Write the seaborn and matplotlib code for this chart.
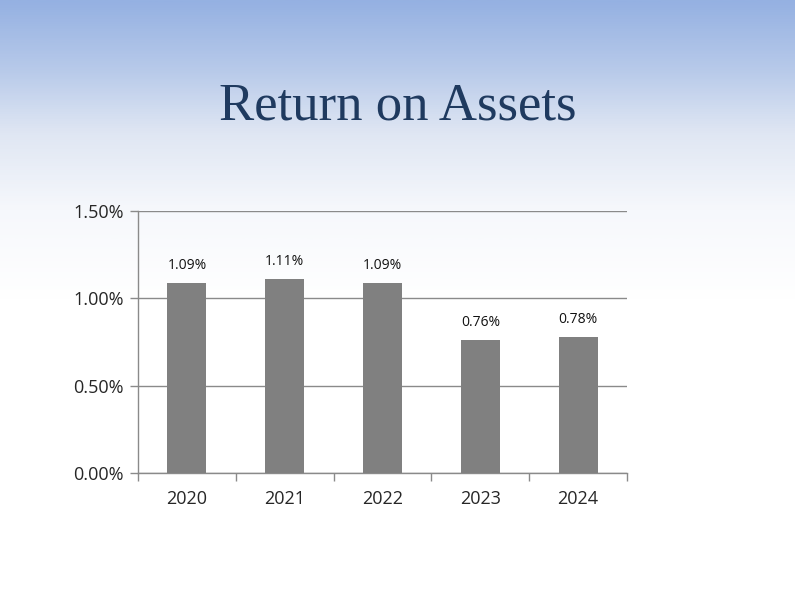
import numpy as np
import pandas as pd
import matplotlib
matplotlib.use("Agg")
import matplotlib.pyplot as plt
import seaborn as sns
from matplotlib.colors import LinearSegmentedColormap

years = ["2020", "2021", "2022", "2023", "2024"]
roa = [1.09, 1.11, 1.09, 0.76, 0.78]
labels = ["1.09%", "1.11%", "1.09%", "0.76%", "0.78%"]
yticks = [0.0, 0.5, 1.0, 1.5]
ytick_labels = ["0.00%", "0.50%", "1.00%", "1.50%"]

sns.set_style("white")
plt.rcParams['font.family'] = ['Open Sans', 'DejaVu Sans']

fig = plt.figure(figsize=(7.95, 5.96), dpi=100)

# background gradient
bg = fig.add_axes([0, 0, 1, 1], zorder=-10)
cmap = LinearSegmentedColormap.from_list(
    "bg", [(0.0, "#95b1e2"), (0.12, "#b9cbea"), (0.22, "#dfe6f3"), (0.35, "#f6f8fc"), (0.5, "#ffffff"), (1.0, "#ffffff")])
grad = np.linspace(0, 1, 600).reshape(-1, 1)
bg.imshow(grad, aspect="auto", cmap=cmap, extent=[0, 1, 1, 0])
bg.set_axis_off()

fig.text(0.5, 0.822, "Return on Assets", ha="center", va="center",
         fontsize=38, color="#1f3a5f", family=["Liberation Serif", "DejaVu Serif"])

ax = fig.add_axes([0.1736, 0.2064, 0.6151, 0.4396])
ax.patch.set_alpha(0)
df = pd.DataFrame({"year": years, "roa": roa})
sns.barplot(data=df, x="year", y="roa", color="#808080", saturation=1, width=0.4,
            linewidth=0, edgecolor="none", ax=ax, zorder=3)

ax.set_ylim(0, 1.5)
ax.set_xlim(-0.5, len(years) - 0.5)
ax.set_yticks(yticks)
ax.set_yticklabels(ytick_labels, fontsize=13)
ax.yaxis.grid(True, color="#8a8a8a", linewidth=1)
ax.set_axisbelow(True)
ax.set_xlabel("")
ax.set_ylabel("")

ax.set_xticks(np.arange(len(years)))
ax.set_xticklabels(years, fontsize=13)
ax.tick_params(axis="x", which="major", bottom=True, length=0, pad=12)
ax.set_xticks(np.arange(-0.5, len(years)), minor=True)
ax.tick_params(axis="x", which="minor", bottom=True, length=6, color="#8a8a8a", width=1, direction="out")
ax.tick_params(axis="y", left=True, length=6, color="#8a8a8a", width=1, direction="out", pad=4)

for s in ["top", "right"]:
    ax.spines[s].set_visible(False)
for s in ["left", "bottom"]:
    ax.spines[s].set_color("#8a8a8a")
    ax.spines[s].set_linewidth(1)

for i, (v, lab) in enumerate(zip(roa, labels)):
    ax.annotate(lab, (i, v), xytext=(0, 12.5), textcoords="offset points",
                ha="center", va="center", fontsize=10, color="#111111")

fig.savefig("out.png", dpi=100)
